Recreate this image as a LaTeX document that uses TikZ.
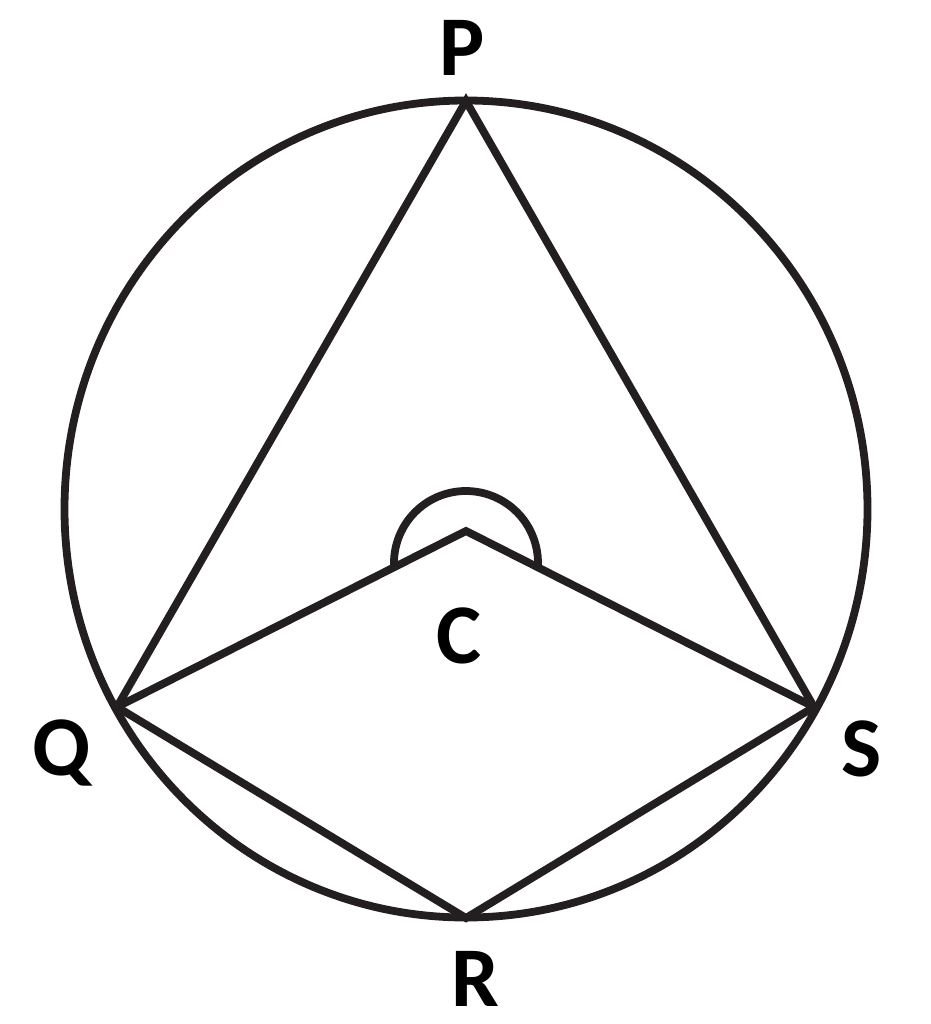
\documentclass[tikz,border=0pt]{standalone}
\usepackage{fontspec}
\newfontfamily\labfont{Carlito}
\definecolor{ink}{RGB}{35,31,32}
\begin{document}
\begin{tikzpicture}[x=1pt,y=-1pt,
  geo/.style={draw=ink,line width=7.8pt},
  lab/.style={anchor=base,inner sep=0pt,font=\labfont\bfseries\fontsize{85}{85}\selectfont,text=black}]
\useasboundingbox (0,0) rectangle (930,1024);
\coordinate (O) at (466,509);
\coordinate (P) at (466,101);
\coordinate (Q) at (117,707);
\coordinate (S) at (814,707);
\coordinate (R) at (466,918);
\coordinate (C) at (466,531);
\coordinate (A) at (466,563);
\draw[geo] (O) ellipse [x radius=401.5, y radius=408.5];
\draw[geo] (Q) -- (P) -- (S);
\draw[geo] (Q) -- (C) -- (S);
\draw[geo] (Q) -- (R) -- (S);
\draw[geo] ([shift={(177:72)}]A) arc[start angle=177, end angle=363, radius=72];
\node[lab] (lP) at (462,76) {P};
\node[lab] (lC) at (459,663) {C};
\node[lab] (lQ) at (62,775) {Q};
\node[lab] (lS) at (862,776) {S};
\node[lab] (lR) at (475,1006) {R};
\end{tikzpicture}
\end{document}
